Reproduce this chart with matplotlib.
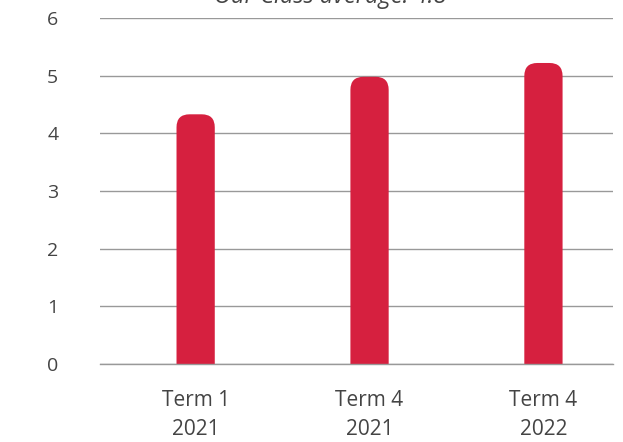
import matplotlib
matplotlib.use("Agg")
import matplotlib.pyplot as plt
from matplotlib.patches import FancyBboxPatch

# class averages per term
terms = ["Term 1\n2021", "Term 4\n2021", "Term 4\n2022"]
averages = [4.33, 4.98, 5.22]
yticks = [0, 1, 2, 3, 4, 5, 6]
title = "Our Class average: 4.8"

plt.rcParams['font.family'] = ['Open Sans', 'DejaVu Sans']

fig = plt.figure(figsize=(6.23, 4.42), dpi=100)
ax = fig.add_axes([100/623, 1-364/442, 513/623, 346/442])

xs = list(range(len(terms)))
bars = ax.bar(xs, averages, width=0.22, color="#D6203F")
ax.set_xlim(-0.55, 2.40)
ax.set_ylim(0, 6)

# swap the plain bars for ones with rounded tops
r_px = 13
x_per_px = (2.40 + 0.55) / 513
y_per_px = 6 / 346
rx = r_px * x_per_px
ry = r_px * y_per_px
for b in bars:
    x0, w, h = b.get_x(), b.get_width(), b.get_height()
    b.set_visible(False)
    p = FancyBboxPatch((x0, -1), w, h + 1,
                       boxstyle=f"round,pad=0,rounding_size={rx}",
                       mutation_aspect=ry/rx,
                       facecolor="#D6203F", edgecolor="none", zorder=3)
    ax.add_patch(p)

ax.set_yticks(yticks)
ax.set_xticks(xs)
ax.set_xticklabels(terms, linespacing=1.45)
ax.grid(axis="y", color="#999999", linewidth=1)
ax.axhline(0, color="#999999", linewidth=1, clip_on=False, zorder=4)
ax.set_axisbelow(True)
for s in ax.spines.values():
    s.set_visible(False)
ax.tick_params(axis="y", length=0, pad=30, labelsize=14, labelcolor="#444444")
ax.tick_params(axis="x", length=0, pad=19, labelsize=15, labelcolor="#444444")

fig.text(330/623, 1-3/442, title, ha="center", va="baseline",
         fontsize=17, style="italic", color="#444444")

fig.savefig("out.png", dpi=100)
